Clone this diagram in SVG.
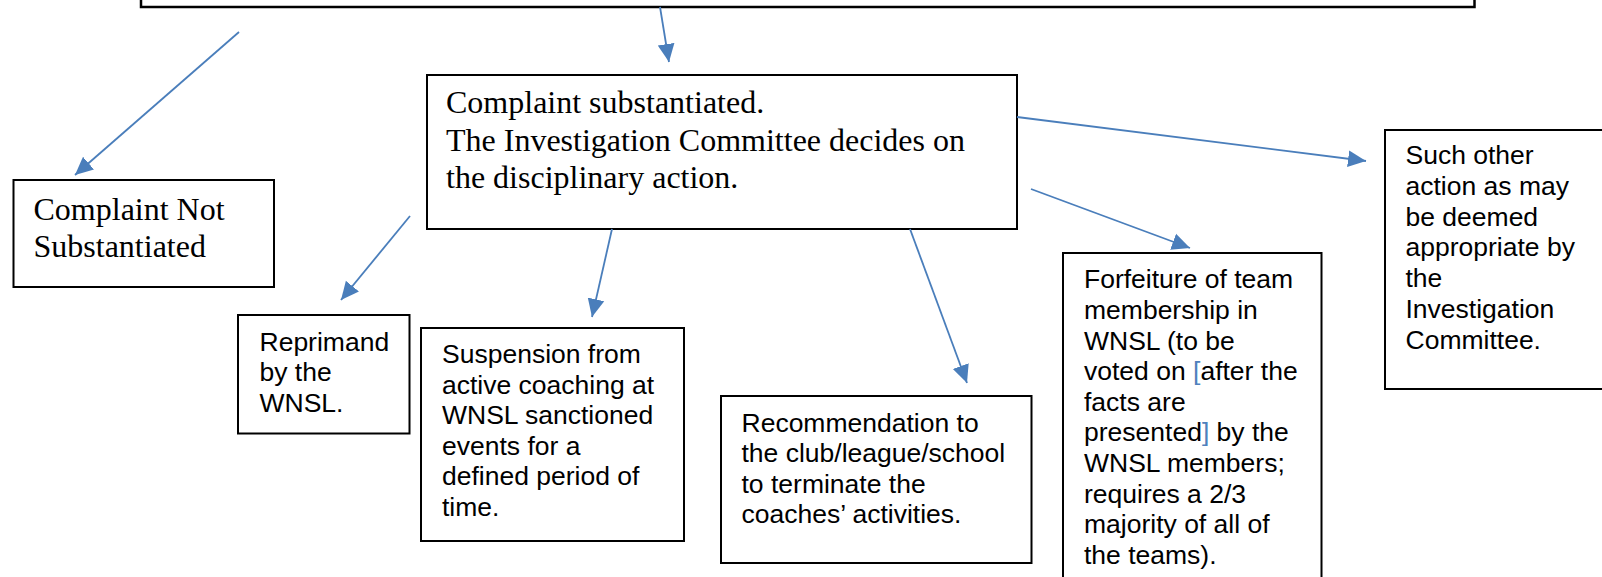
<svg xmlns="http://www.w3.org/2000/svg" width="1602" height="577" viewBox="0 0 1602 577">
<style>
.box{fill:#fff;stroke:#000;stroke-width:2}
.serif{font-family:"Liberation Serif","Times New Roman",serif;font-size:32px;fill:#000}
.sans{font-family:"Liberation Sans",Arial,sans-serif;font-size:26.5px;fill:#000}
.conn{stroke:#4A7EBB;stroke-width:1.8;fill:none;marker-end:url(#arr)}
.br{fill:#4F81BD}
</style>
<defs>
<marker id="arr" markerUnits="userSpaceOnUse" markerWidth="18" markerHeight="18" viewBox="0 0 16 16" refX="16" refY="8" orient="auto">
<path d="M0,0.5 L16,8 L0,15.5 Z" fill="#4A7EBB"/>
</marker>
</defs>
<rect width="1602" height="577" fill="#fff"/>
<g id="top">
<rect x="141" y="-50" width="1333.5" height="57" fill="#fff" stroke="#000" stroke-width="2.5"/>
</g>
<g id="not-substantiated">
<rect class="box" x="13.5" y="180" width="260.5" height="107"/>
<text class="serif"><tspan x="33.5" y="220">Complaint Not</tspan><tspan x="33.5" y="257">Substantiated</tspan></text>
</g>
<g id="substantiated">
<rect class="box" x="427" y="75" width="590" height="154"/>
<text class="serif"><tspan x="446" y="113">Complaint substantiated.</tspan><tspan x="446" y="150.5">The Investigation Committee decides on</tspan><tspan x="446" y="188">the disciplinary action.</tspan></text>
</g>
<g id="reprimand">
<rect class="box" x="238" y="315" width="171.5" height="118.5"/>
<text class="sans"><tspan x="259.5" y="351">Reprimand</tspan><tspan x="259.5" y="381.3">by the</tspan><tspan x="259.5" y="411.7">WNSL.</tspan></text>
</g>
<g id="suspension">
<rect class="box" x="421" y="328" width="263" height="213"/>
<text class="sans"><tspan x="442" y="363.3">Suspension from</tspan><tspan x="442" y="393.8">active coaching at</tspan><tspan x="442" y="424.3">WNSL sanctioned</tspan><tspan x="442" y="454.8">events for a</tspan><tspan x="442" y="485.3">defined period of</tspan><tspan x="442" y="515.8">time.</tspan></text>
</g>
<g id="recommendation">
<rect class="box" x="721" y="396" width="310.5" height="167"/>
<text class="sans"><tspan x="741.5" y="431.7">Recommendation to</tspan><tspan x="741.5" y="462.2">the club/league/school</tspan><tspan x="741.5" y="492.7">to terminate the</tspan><tspan x="741.5" y="523.2">coaches’ activities.</tspan></text>
</g>
<g id="forfeiture">
<rect class="box" x="1063" y="253" width="258.5" height="360"/>
<text class="sans"><tspan x="1084" y="288.3">Forfeiture of team</tspan><tspan x="1084" y="318.9">membership in</tspan><tspan x="1084" y="349.5">WNSL (to be</tspan><tspan x="1084" y="380.1">voted on <tspan class="br">[</tspan>after the</tspan><tspan x="1084" y="410.7">facts are</tspan><tspan x="1084" y="441.3">presented<tspan class="br">]</tspan> by the</tspan><tspan x="1084" y="471.9">WNSL members;</tspan><tspan x="1084" y="502.5">requires a 2/3</tspan><tspan x="1084" y="533.1">majority of all of</tspan><tspan x="1084" y="563.7">the teams).</tspan></text>
</g>
<g id="other-action">
<rect class="box" x="1385" y="130" width="240" height="259"/>
<text class="sans"><tspan x="1405.5" y="164.3">Such other</tspan><tspan x="1405.5" y="195">action as may</tspan><tspan x="1405.5" y="225.7">be deemed</tspan><tspan x="1405.5" y="256.4">appropriate by</tspan><tspan x="1405.5" y="287.1">the</tspan><tspan x="1405.5" y="317.8">Investigation</tspan><tspan x="1405.5" y="348.5">Committee.</tspan></text>
</g>
<g id="connectors">
<line class="conn" x1="660" y1="7" x2="669" y2="62"/>
<line class="conn" x1="239" y1="32" x2="75" y2="175"/>
<line class="conn" x1="410" y1="216" x2="341" y2="300"/>
<line class="conn" x1="612" y1="229" x2="592" y2="317"/>
<line class="conn" x1="910" y1="229" x2="967" y2="383"/>
<line class="conn" x1="1031" y1="189" x2="1190" y2="248"/>
<line class="conn" x1="1017" y1="117" x2="1366" y2="161"/>
</g>
</svg>
